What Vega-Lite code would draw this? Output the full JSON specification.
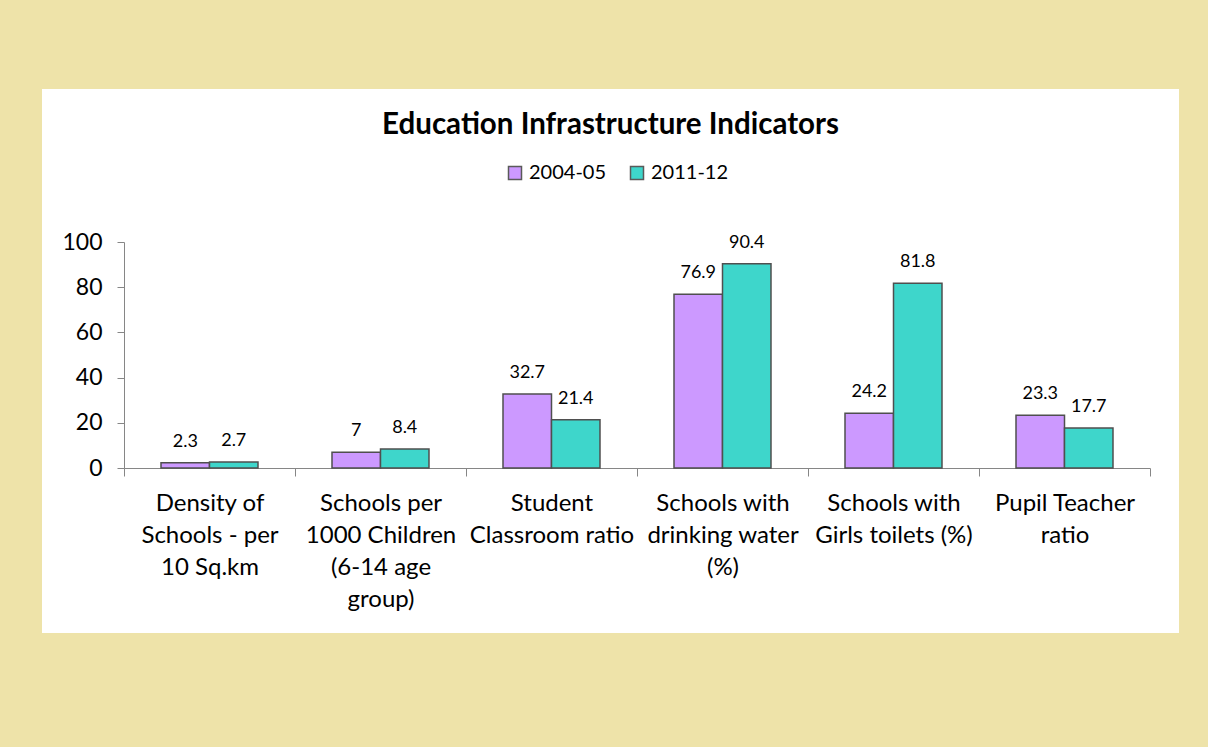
{
  "$schema": "https://vega.github.io/schema/vega-lite/v6.json",
  "width": 1137,
  "height": 544,
  "autosize": {"type": "none"},
  "padding": {"left": 42, "top": 89, "right": 29, "bottom": 114},
  "background": "#EEE3A9",
  "config": {
    "font": "Lato",
    "view": {"fill": "white", "stroke": null}
  },
  "title": {
    "text": "Education Infrastructure Indicators",
    "anchor": "middle",
    "frame": "group",
    "fontSize": 29.5,
    "fontWeight": "bold",
    "color": "#000000",
    "offset": -51
  },
  "data": {
    "values": [
      {"Indicator": "Density of Schools - per 10 Sq.km", "Year": "2004-05", "Value": 2.3},
      {"Indicator": "Density of Schools - per 10 Sq.km", "Year": "2011-12", "Value": 2.7},
      {"Indicator": "Schools per 1000 Children (6-14 age group)", "Year": "2004-05", "Value": 7},
      {"Indicator": "Schools per 1000 Children (6-14 age group)", "Year": "2011-12", "Value": 8.4},
      {"Indicator": "Student Classroom ratio", "Year": "2004-05", "Value": 32.7},
      {"Indicator": "Student Classroom ratio", "Year": "2011-12", "Value": 21.4},
      {"Indicator": "Schools with drinking water (%)", "Year": "2004-05", "Value": 76.9},
      {"Indicator": "Schools with drinking water (%)", "Year": "2011-12", "Value": 90.4},
      {"Indicator": "Schools with Girls toilets (%)", "Year": "2004-05", "Value": 24.2},
      {"Indicator": "Schools with Girls toilets (%)", "Year": "2011-12", "Value": 81.8},
      {"Indicator": "Pupil Teacher ratio", "Year": "2004-05", "Value": 23.3},
      {"Indicator": "Pupil Teacher ratio", "Year": "2011-12", "Value": 17.7}
    ]
  },
  "encoding": {
    "x": {
      "field": "Indicator",
      "type": "nominal",
      "sort": null,
      "scale": {"range": [82, 1108], "paddingInner": 0, "paddingOuter": 0},
      "axis": {
        "title": null,
        "offset": -165,
        "labelAngle": 0,
        "labelFontSize": 24,
        "labelColor": "#000000",
        "labelLineHeight": 32,
        "labelPadding": 15,
        "labelBaseline": "top",
        "labelLimit": 0,
        "labelOverlap": false,
        "tickBand": "extent",
        "tickSize": 8,
        "tickColor": "#868686",
        "domainColor": "#868686",
        "labelExpr": "datum.label == 'Density of Schools - per 10 Sq.km' ? ['Density of','Schools - per','10 Sq.km'] : datum.label == 'Schools per 1000 Children (6-14 age group)' ? ['Schools per','1000 Children','(6-14 age','group)'] : datum.label == 'Student Classroom ratio' ? ['Student','Classroom ratio'] : datum.label == 'Schools with drinking water (%)' ? ['Schools with','drinking water','(%)'] : datum.label == 'Schools with Girls toilets (%)' ? ['Schools with','Girls toilets (%)'] : datum.label == 'Pupil Teacher ratio' ? ['Pupil Teacher','ratio'] : ''"
      }
    },
    "xOffset": {
      "field": "Year",
      "type": "nominal",
      "scale": {"paddingInner": 0, "paddingOuter": 0.763}
    },
    "y": {
      "field": "Value",
      "type": "quantitative",
      "scale": {"domain": [0, 100], "range": [379, 153], "nice": false, "zero": true},
      "axis": {
        "title": null,
        "offset": -82,
        "values": [0, 20, 40, 60, 80, 100],
        "grid": false,
        "labelFontSize": 23,
        "labelColor": "#000000",
        "labelPadding": 15,
        "tickSize": 7,
        "tickColor": "#868686",
        "domainColor": "#868686"
      }
    },
    "color": {
      "field": "Year",
      "type": "nominal",
      "scale": {"domain": ["2004-05", "2011-12"], "range": ["#CC99FF", "#3ED6CB"]},
      "legend": {
        "title": null,
        "orient": "none",
        "direction": "horizontal",
        "legendX": 463,
        "legendY": 74,
        "symbolType": "square",
        "symbolSize": 169,
        "symbolStrokeColor": "#5A5A5A",
        "symbolStrokeWidth": 1.5,
        "labelFontSize": 20,
        "labelColor": "#000000",
        "labelOffset": 4,
        "columnPadding": 20
      }
    }
  },
  "layer": [
    {
      "mark": {"type": "bar", "stroke": "#4F4F4F", "strokeWidth": 1.5}
    },
    {
      "mark": {"type": "text", "baseline": "alphabetic", "dy": -16, "fontSize": 18, "color": "#000000"},
      "encoding": {
        "text": {"field": "Value", "type": "quantitative"},
        "color": {"value": "#000000"}
      }
    }
  ]
}
